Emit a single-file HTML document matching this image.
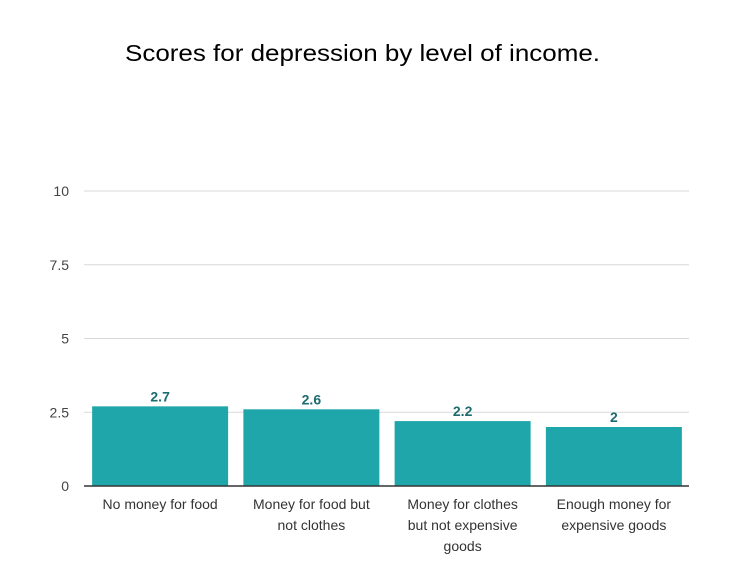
<!DOCTYPE html>
<html><head><meta charset="utf-8"><style>
html,body{margin:0;padding:0;background:#fff;}
svg{display:block;font-family:"Liberation Sans",Arial,sans-serif;}
</style></head><body>
<svg id="chart" width="753" height="583" viewBox="0 0 753 583" xmlns="http://www.w3.org/2000/svg">
<rect width="753" height="583" fill="#fff"/>
<text x="125" y="61" font-size="23" fill="#000" textLength="475" lengthAdjust="spacingAndGlyphs">Scores for depression by level of income.</text>
<g id="grid"></g><g id="bars"></g><g id="labels"></g>
</svg>
<script>
const categories=[["No money for food"],["Money for food but","not clothes"],["Money for clothes","but not expensive","goods"],["Enough money for","expensive goods"]];
const values=[2.7,2.6,2.2,2];
const valueLabels=["2.7","2.6","2.2","2"];
const yTicks=[0,2.5,5,7.5,10];
const yTickLabels=["0","2.5","5","7.5","10"];
const NS="http://www.w3.org/2000/svg";
const x0=84,x1=689,yBase=486,yTop=191,yMax=10;
const y=v=>yBase-(yBase-yTop)*v/yMax;
const band=(x1-x0)/categories.length;
const bx=i=>x0+band*i+(band-136)/2+0.5;
function mk(t,a,p,txt){const e=document.createElementNS(NS,t);for(const k in a)e.setAttribute(k,a[k]);if(txt!==undefined)e.textContent=txt;p.appendChild(e);return e;}
const g=document.getElementById('grid'),b=document.getElementById('bars'),l=document.getElementById('labels');
yTicks.forEach((t,i)=>{
 if(t!==0){const ln=mk('line',{x1:x0,x2:x1,y1:y(t),y2:y(t),stroke:'#d9d9d9','stroke-width':1},g);
 
 }
 const tx=mk('text',{x:69,y:y(t)+5,'font-size':14,fill:'#444','text-anchor':'end'},g,yTickLabels[i]);
 
 
});
values.forEach((v,i)=>{
 const r=mk('rect',{x:bx(i),y:y(v),width:136,height:yBase-y(v),fill:'#1fa6aa'},b);
 
 
 const cx=bx(i)+68;
 const vt=mk('text',{x:cx,y:y(v)-5,'font-size':14,'font-weight':'bold',fill:'#1b6c70','text-anchor':'middle'},l,valueLabels[i]);
 
 
 categories[i].forEach((line,j)=>{
  const ct=mk('text',{x:cx,y:509+j*21,'font-size':14,fill:'#333','text-anchor':'middle'},l,line);
  
  
 });
});
const ax=mk('line',{x1:x0,x2:x1,y1:yBase,y2:yBase,stroke:'#333','stroke-width':1.5},l);


</script>
</body></html>
